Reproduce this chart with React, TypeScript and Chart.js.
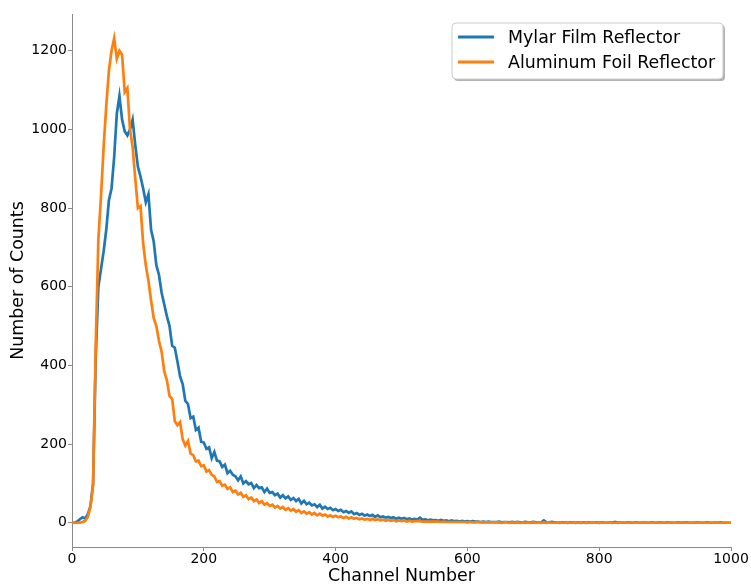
import { useEffect, useRef } from "react";
import { Chart, registerables } from "chart.js";

Chart.register(...registerables);

// Channel numbers (every 4th channel of the MCA spectrum)
const CHANNELS = [
  0, 4, 8, 12, 16, 20, 24, 28, 32, 36,
  40, 44, 48, 52, 56, 60, 64, 68, 72, 76,
  80, 84, 88, 92, 96, 100, 104, 108, 112, 116,
  120, 124, 128, 132, 136, 140, 144, 148, 152, 156,
  160, 164, 168, 172, 176, 180, 184, 188, 192, 196,
  200, 204, 208, 212, 216, 220, 224, 228, 232, 236,
  240, 244, 248, 252, 256, 260, 264, 268, 272, 276,
  280, 284, 288, 292, 296, 300, 304, 308, 312, 316,
  320, 324, 328, 332, 336, 340, 344, 348, 352, 356,
  360, 364, 368, 372, 376, 380, 384, 388, 392, 396,
  400, 404, 408, 412, 416, 420, 424, 428, 432, 436,
  440, 444, 448, 452, 456, 460, 464, 468, 472, 476,
  480, 484, 488, 492, 496, 500, 504, 508, 512, 516,
  520, 524, 528, 532, 536, 540, 544, 548, 552, 556,
  560, 564, 568, 572, 576, 580, 584, 588, 592, 596,
  600, 604, 608, 612, 616, 620, 624, 628, 632, 636,
  640, 644, 648, 652, 656, 660, 664, 668, 672, 676,
  680, 684, 688, 692, 696, 700, 704, 708, 712, 716,
  720, 724, 728, 732, 736, 740, 744, 748, 752, 756,
  760, 764, 768, 772, 776, 780, 784, 788, 792, 796,
  800, 804, 808, 812, 816, 820, 824, 828, 832, 836,
  840, 844, 848, 852, 856, 860, 864, 868, 872, 876,
  880, 884, 888, 892, 896, 900, 904, 908, 912, 916,
  920, 924, 928, 932, 936, 940, 944, 948, 952, 956,
  960, 964, 968, 972, 976, 980, 984, 988, 992, 996,
  1000,
];

// Counts recorded with the Mylar film reflector
const MYLAR = [
  0, 0, 3, 9, 14, 11, 22, 42, 100, 420,
  600, 645, 690, 745, 820, 850, 930, 1040, 1085, 1025,
  995, 985, 1000, 1025, 960, 905, 880, 850, 815, 835,
  745, 715, 655, 630, 585, 555, 525, 500, 450, 445,
  410, 372, 352, 310, 302, 266, 270, 236, 242, 206,
  204, 188, 192, 164, 180, 158, 156, 142, 148, 126,
  132, 122, 118, 108, 118, 100, 106, 98, 101, 88,
  96, 88, 90, 78, 87, 76, 78, 70, 74, 64,
  70, 62, 67, 58, 63, 55, 61, 49, 56, 47,
  51, 44, 47, 40, 46, 36, 41, 35, 38, 32,
  35, 30, 33, 27, 30, 25, 29, 22, 25, 20,
  23, 18, 21, 17, 20, 15, 19, 14, 16, 13,
  15, 12, 14, 10, 13, 10, 12, 9, 11, 8,
  10, 8, 13, 7, 9, 6, 8, 6, 7, 5,
  7, 5, 6, 4, 6, 4, 5, 3, 5, 3,
  4, 3, 4, 3, 3, 2, 3, 2, 3, 2,
  2, 2, 3, 1, 2, 2, 1, 2, 1, 2,
  1, 1, 2, 1, 1, 2, 1, 1, 1, 6,
  1, 1, 2, 1, 1, 0, 1, 1, 0, 1,
  1, 0, 1, 0, 1, 0, 1, 0, 0, 1,
  0, 1, 0, 0, 1, 0, 2, 0, 1, 0,
  0, 1, 0, 0, 1, 0, 0, 1, 0, 0,
  1, 0, 0, 1, 0, 0, 1, 0, 0, 0,
  1, 0, 0, 1, 0, 0, 0, 1, 0, 0,
  0, 1, 0, 0, 0, 0, 1, 0, 0, 0,
  0,
];

// Counts recorded with the aluminum foil reflector
const ALUMINUM = [
  0, 0, 0, 0, 2, 5, 15, 40, 95, 450,
  720, 830, 955, 1060, 1150, 1200, 1232, 1180, 1200, 1190,
  1095, 1105, 1000, 955, 875, 800, 805, 710, 655, 615,
  565, 520, 500, 462, 435, 385, 362, 322, 315, 258,
  248, 256, 212, 196, 208, 176, 172, 156, 158, 144,
  146, 130, 134, 122, 118, 104, 106, 94, 97, 86,
  90, 78, 82, 72, 76, 66, 70, 60, 64, 55,
  59, 50, 55, 46, 50, 43, 46, 39, 43, 36,
  40, 33, 37, 31, 35, 28, 32, 25, 29, 23,
  27, 21, 25, 19, 23, 18, 21, 16, 19, 15,
  18, 14, 16, 12, 15, 11, 14, 10, 12, 9,
  11, 8, 10, 7, 10, 7, 9, 6, 8, 5,
  7, 5, 7, 4, 6, 4, 6, 3, 5, 3,
  4, 4, 4, 3, 3, 3, 3, 3, 3, 3,
  2, 3, 2, 2, 2, 2, 2, 2, 2, 2,
  1, 2, 1, 1, 2, 1, 1, 1, 1, 1,
  1, 1, 1, 0, 1, 1, 0, 1, 0, 1,
  0, 1, 0, 1, 0, 1, 0, 1, 0, 1,
  0, 1, 0, 0, 1, 0, 0, 1, 0, 0,
  1, 0, 0, 1, 0, 0, 0, 1, 0, 0,
  1, 0, 0, 0, 1, 0, 0, 0, 1, 0,
  0, 0, 1, 0, 0, 0, 0, 1, 0, 0,
  0, 0, 1, 0, 0, 0, 0, 1, 0, 0,
  0, 0, 1, 0, 0, 0, 0, 0, 1, 0,
  0, 0, 0, 0, 1, 0, 0, 0, 0, 0,
  0,
];

const SERIES_NAMES = ["Mylar Film Reflector", "Aluminum Foil Reflector"];
const SERIES_COLORS = ["#1f77b4", "#ff7f0e"];

const X_TICKS = [0, 200, 400, 600, 800, 1000];
const Y_TICKS = [0, 200, 400, 600, 800, 1000, 1200];
const X_RANGE = [0, 1000];
const Y_RANGE = [-61.6, 1293.6];

const X_TITLE = "Channel Number";
const Y_TITLE = "Number of Counts";

const FONT = "'DejaVu Sans', sans-serif";
const SPINE = "#8a8a8a";

// Boxed legend drawn in the upper right corner of the plot area
const cornerLegend = {
  id: "cornerLegend",
  afterDraw(chart: any) {
    const { ctx, chartArea } = chart;
    const w = 271;
    const h = 56;
    const x = chartArea.right - 8 - w;
    const y = chartArea.top + 9;
    const r = 4;
    const roundRect = (rx: number, ry: number) => {
      ctx.beginPath();
      ctx.moveTo(rx + r, ry);
      ctx.lineTo(rx + w - r, ry);
      ctx.arcTo(rx + w, ry, rx + w, ry + r, r);
      ctx.lineTo(rx + w, ry + h - r);
      ctx.arcTo(rx + w, ry + h, rx + w - r, ry + h, r);
      ctx.lineTo(rx + r, ry + h);
      ctx.arcTo(rx, ry + h, rx, ry + h - r, r);
      ctx.lineTo(rx, ry + r);
      ctx.arcTo(rx, ry, rx + r, ry, r);
      ctx.closePath();
    };
    ctx.save();
    roundRect(x + 2, y + 2);
    ctx.fillStyle = "rgba(0,0,0,0.3)";
    ctx.fill();
    roundRect(x, y);
    ctx.fillStyle = "#ffffff";
    ctx.fill();
    ctx.strokeStyle = "#cccccc";
    ctx.lineWidth = 1;
    ctx.stroke();

    ctx.font = `17.4px ${FONT}`;
    ctx.textBaseline = "middle";
    ctx.textAlign = "left";
    chart.data.datasets.forEach((ds: any, i: number) => {
      const ly = y + 14 + i * 25;
      ctx.beginPath();
      ctx.moveTo(x + 6, ly);
      ctx.lineTo(x + 42, ly);
      ctx.strokeStyle = ds.borderColor;
      ctx.lineWidth = 2.8;
      ctx.stroke();
      ctx.fillStyle = "#000000";
      ctx.fillText(ds.label, x + 56, ly + 1);
    });
    ctx.restore();
  },
};

const plainNumber = (v: number | string) => String(v);

export default function App() {
  const canvasRef = useRef<HTMLCanvasElement | null>(null);

  useEffect(() => {
    const canvas = canvasRef.current;
    if (!canvas) return;

    const series = [MYLAR, ALUMINUM].map((values, s) => ({
      label: SERIES_NAMES[s],
      data: CHANNELS.map((c, i) => ({ x: c, y: values[i] })),
      borderColor: SERIES_COLORS[s],
      backgroundColor: SERIES_COLORS[s],
      borderWidth: 2.7,
      pointRadius: 0,
      tension: 0,
      fill: false,
      // the aluminum trace sits on top of the mylar trace
      order: s === 0 ? 1 : 0,
    }));

    const axisCommon = {
      type: "linear" as const,
      grid: {
        display: true,
        drawOnChartArea: false,
        drawTicks: true,
        tickLength: 4,
        color: SPINE,
        lineWidth: 1,
      },
      border: { display: true, color: SPINE, width: 1 },
    };

    const chart = new Chart(canvas, {
      type: "line",
      data: { datasets: series as any },
      plugins: [cornerLegend],
      options: {
        animation: false,
        responsive: false,
        devicePixelRatio: 1,
        layout: { padding: { top: 14, right: 20, left: 0, bottom: 0 } },
        plugins: {
          legend: { display: false },
          tooltip: { enabled: false },
        },
        scales: {
          x: {
            ...axisCommon,
            min: X_RANGE[0],
            max: X_RANGE[1],
            afterBuildTicks: (scale: any) => {
              scale.ticks = X_TICKS.map((value) => ({ value }));
            },
            afterFit: (scale: any) => {
              scale.height = 37;
            },
            ticks: {
              autoSkip: false,
              maxRotation: 0,
              padding: 0,
              color: "#000000",
              font: { family: FONT, size: 14 },
              callback: plainNumber,
            },
            title: {
              display: true,
              text: X_TITLE,
              color: "#000000",
              font: { family: FONT, size: 17.4, lineHeight: 1 },
              padding: { top: 0, bottom: -1.6 },
            },
          },
          y: {
            ...axisCommon,
            min: Y_RANGE[0],
            max: Y_RANGE[1],
            afterBuildTicks: (scale: any) => {
              scale.ticks = Y_TICKS.map((value) => ({ value }));
            },
            afterFit: (scale: any) => {
              scale.width = 72;
            },
            ticks: {
              autoSkip: false,
              padding: 1,
              color: "#000000",
              font: { family: FONT, size: 14 },
              callback: plainNumber,
            },
            title: {
              display: true,
              text: Y_TITLE,
              color: "#000000",
              font: { family: FONT, size: 17.4, lineHeight: 1 },
              padding: { top: 9.6, bottom: 0 },
            },
          },
        },
      } as any,
    });

    return () => chart.destroy();
  }, []);

  return (
    <div
      style={{
        position: "fixed",
        left: 0,
        top: 0,
        width: 751,
        height: 584,
        background: "#ffffff",
      }}
    >
      <canvas
        ref={canvasRef}
        width={751}
        height={584}
        style={{ width: 751, height: 584, display: "block" }}
      />
    </div>
  );
}
